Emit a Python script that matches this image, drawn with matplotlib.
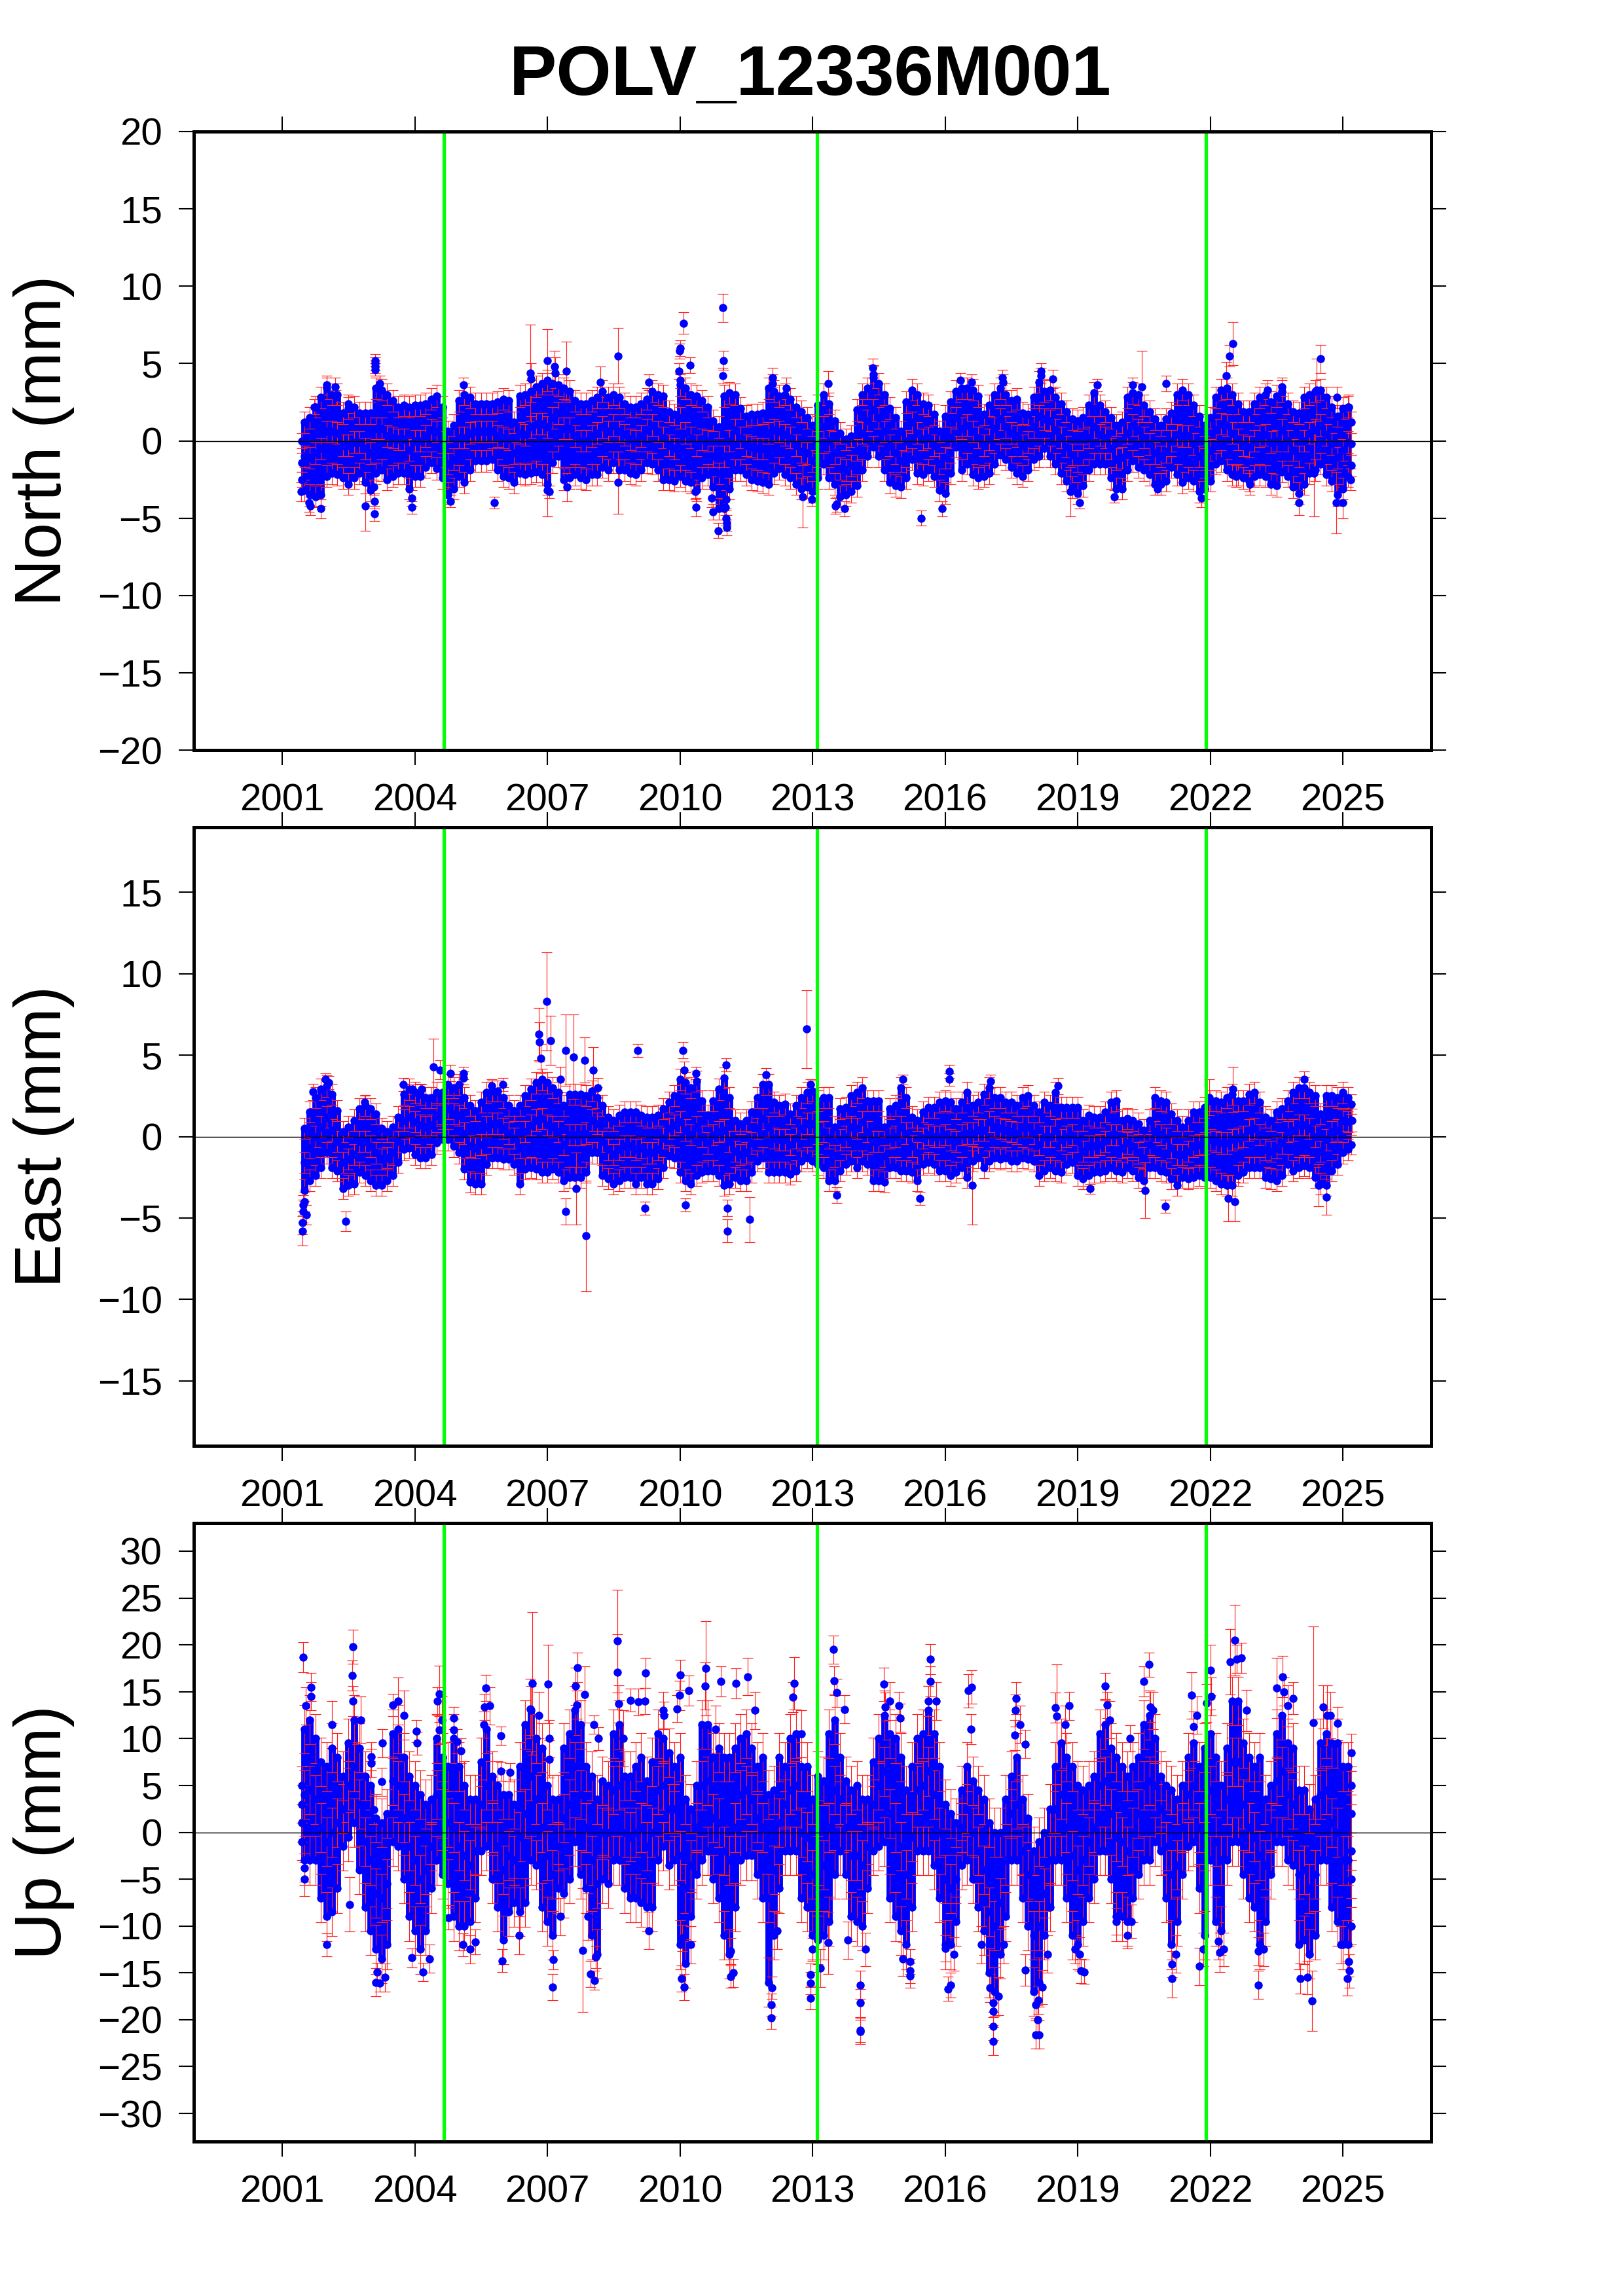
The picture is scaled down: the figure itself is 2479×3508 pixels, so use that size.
import numpy as np
import matplotlib
matplotlib.use('Agg')
import matplotlib.pyplot as plt

plt.rcParams['font.family'] = ['Liberation Sans', 'DejaVu Sans']

station = 'POLV_12336M001'
year_ticks = [2001, 2004, 2007, 2010, 2013, 2016, 2019, 2022, 2025]
breaks = [2004.66, 2013.10, 2021.91]

# one epoch every eighth of a year, each with the top, middle and bottom of the cloud
epochs = [2001.5, 2001.625, 2001.75, 2001.875,
    2002.0, 2002.125, 2002.25, 2002.375, 2002.5, 2002.625, 2002.75, 2002.875,
    2003.0, 2003.125, 2003.25, 2003.375, 2003.5, 2003.625, 2003.75, 2003.875,
    2004.0, 2004.125, 2004.25, 2004.375, 2004.5, 2004.625, 2004.75, 2004.875,
    2005.0, 2005.125, 2005.25, 2005.375, 2005.5, 2005.625, 2005.75, 2005.875,
    2006.0, 2006.125, 2006.25, 2006.375, 2006.5, 2006.625, 2006.75, 2006.875,
    2007.0, 2007.125, 2007.25, 2007.375, 2007.5, 2007.625, 2007.75, 2007.875,
    2008.0, 2008.125, 2008.25, 2008.375, 2008.5, 2008.625, 2008.75, 2008.875,
    2009.0, 2009.125, 2009.25, 2009.375, 2009.5, 2009.625, 2009.75, 2009.875,
    2010.0, 2010.125, 2010.25, 2010.375, 2010.5, 2010.625, 2010.75, 2010.875,
    2011.0, 2011.125, 2011.25, 2011.375, 2011.5, 2011.625, 2011.75, 2011.875,
    2012.0, 2012.125, 2012.25, 2012.375, 2012.5, 2012.625, 2012.75, 2012.875,
    2013.0, 2013.125, 2013.25, 2013.375, 2013.5, 2013.625, 2013.75, 2013.875,
    2014.0, 2014.125, 2014.25, 2014.375, 2014.5, 2014.625, 2014.75, 2014.875,
    2015.0, 2015.125, 2015.25, 2015.375, 2015.5, 2015.625, 2015.75, 2015.875,
    2016.0, 2016.125, 2016.25, 2016.375, 2016.5, 2016.625, 2016.75, 2016.875,
    2017.0, 2017.125, 2017.25, 2017.375, 2017.5, 2017.625, 2017.75, 2017.875,
    2018.0, 2018.125, 2018.25, 2018.375, 2018.5, 2018.625, 2018.75, 2018.875,
    2019.0, 2019.125, 2019.25, 2019.375, 2019.5, 2019.625, 2019.75, 2019.875,
    2020.0, 2020.125, 2020.25, 2020.375, 2020.5, 2020.625, 2020.75, 2020.875,
    2021.0, 2021.125, 2021.25, 2021.375, 2021.5, 2021.625, 2021.75, 2021.875,
    2022.0, 2022.125, 2022.25, 2022.375, 2022.5, 2022.625, 2022.75, 2022.875,
    2023.0, 2023.125, 2023.25, 2023.375, 2023.5, 2023.625, 2023.75, 2023.875,
    2024.0, 2024.125, 2024.25, 2024.375, 2024.5, 2024.625, 2024.75, 2024.875,
    2025.0, 2025.125]

north_hi = [1.2, 1.5, 2.2, 2.8,
    3.4, 3.0, 3.0, 1.8, 2.1, 2.2, 1.8, 1.8,
    1.8, 3.4, 3.3, 3.0, 2.6, 2.2, 2.3, 2.2,
    2.3, 2.3, 2.4, 2.7, 2.9, 2.2, 0.6, 1.0,
    2.6, 3.0, 2.8, 2.4, 2.4, 2.4, 2.4, 2.5,
    2.7, 2.6, 1.2, 2.9, 3.0, 3.2, 3.5, 3.7,
    3.9, 3.7, 3.6, 3.4, 3.2, 2.6, 2.4, 2.4,
    2.6, 2.8, 3.2, 2.8, 3.0, 2.8, 2.4, 2.2,
    2.2, 2.4, 2.7, 3.2, 3.0, 2.9, 1.9, 1.7,
    3.6, 3.4, 3.0, 2.9, 2.6, 2.2, 1.3, 0.9,
    2.9, 3.1, 3.0, 2.1, 1.6, 1.7, 1.7, 1.8,
    3.4, 3.2, 2.9, 3.0, 2.7, 2.2, 1.9, 1.5,
    1.0, 2.3, 3.0, 2.4, 1.3, 0.5, 0.1, 0.3,
    2.0, 3.0, 3.4, 4.1, 3.7, 3.0, 2.1, 1.5,
    0.6, 2.5, 3.3, 3.0, 2.4, 2.3, 1.7, 0.6,
    1.6, 2.5, 3.2, 3.4, 3.4, 3.3, 2.9, 1.7,
    2.3, 3.0, 3.4, 3.0, 2.6, 2.7, 1.8, 1.7,
    2.8, 3.8, 3.2, 3.3, 2.8, 2.4, 1.9, 1.4,
    1.3, 1.5, 2.3, 3.1, 2.3, 1.9, 1.5, 1.0,
    1.2, 2.8, 3.1, 3.0, 2.3, 1.9, 1.4, 1.0,
    1.4, 1.8, 3.0, 3.3, 3.0, 2.3, 1.6, 1.0,
    1.5, 2.8, 3.3, 3.4, 3.0, 2.4, 1.9, 1.9,
    2.4, 2.8, 3.0, 2.5, 2.9, 3.2, 2.4, 1.9,
    1.8, 2.8, 3.0, 3.2, 3.3, 2.8, 2.2, 1.6,
    2.1, 2.2]
north_mid = [-1.0, -1.1, -0.8, -0.5,
    0.6, 0.6, 0.5, -0.3, -0.3, -0.1, -0.1, -0.5,
    -0.8, 0.8, 0.8, 0.3, 0.2, 0.1, 0.1, -0.6,
    0.0, 0.0, 0.3, 0.7, 0.6, -0.1, -1.5, -1.2,
    0.2, 0.2, 0.5, 0.6, 0.6, 0.6, 0.6, 0.3,
    0.2, 0.1, -0.8, 0.5, 0.4, 0.9, 1.1, 1.1,
    0.9, 1.5, 1.8, 0.8, 0.8, 0.3, 0.0, 0.0,
    0.3, 0.5, 0.9, 0.6, 1.0, 0.6, 0.4, 0.1,
    0.0, 0.3, 0.7, 1.0, 0.6, 0.2, -0.3, -0.5,
    1.5, 0.5, 0.2, -0.3, 0.1, 0.0, -1.0, -2.1,
    -1.0, 0.0, 0.7, 0.2, -0.3, -0.4, -0.5, -0.5,
    0.5, 0.7, 0.6, 0.4, 0.2, -0.3, -0.7, -0.8,
    -1.3, -0.1, 0.9, 0.0, -0.8, -1.8, -1.9, -1.6,
    -0.6, 0.5, 1.3, 2.0, 1.5, 0.6, -0.3, -0.8,
    -1.3, 0.0, 1.2, 0.5, 0.1, 0.2, -0.3, -1.5,
    -1.1, 0.2, 1.5, 0.8, 1.0, 0.6, 0.2, -0.3,
    0.1, 0.8, 1.4, 0.9, 0.5, 0.3, -0.3, -0.1,
    0.9, 1.6, 1.4, 1.3, 0.7, 0.2, -0.4, -0.9,
    -1.3, -0.9, 0.2, 0.9, 0.4, 0.2, -0.5, -1.2,
    -1.1, 0.5, 1.0, 0.7, 0.2, -0.2, -0.8, -1.0,
    -0.7, 0.0, 0.4, 0.3, 0.3, -0.2, -1.0, -1.2,
    -0.6, 0.7, 1.1, 1.0, 0.5, 0.1, -0.3, -0.4,
    0.0, 0.3, 0.4, -0.1, 0.0, 0.7, 0.0, -0.6,
    -1.0, 0.0, 0.5, 0.7, 1.0, 0.4, -0.2, -1.1,
    -0.6, -0.1]
north_lo = [-3.2, -3.5, -3.6, -3.5,
    -2.3, -2.1, -2.2, -2.4, -2.8, -2.4, -2.1, -2.7,
    -3.2, -2.1, -1.9, -2.5, -2.3, -2.1, -2.1, -3.1,
    -2.3, -2.3, -1.7, -1.4, -1.8, -2.4, -3.4, -3.1,
    -2.3, -2.7, -1.9, -1.3, -1.3, -1.3, -1.2, -1.9,
    -2.3, -2.4, -2.7, -2.1, -2.2, -2.1, -2.0, -2.2,
    -2.8, -1.4, -1.0, -2.5, -2.4, -2.2, -2.4, -2.5,
    -2.2, -2.2, -1.7, -1.9, -1.4, -1.9, -1.9, -2.1,
    -2.2, -1.9, -1.4, -1.5, -1.9, -2.5, -2.5, -2.6,
    -2.3, -2.6, -2.7, -3.2, -2.4, -2.2, -3.0, -4.4,
    -4.4, -3.1, -1.9, -1.9, -2.2, -2.5, -2.6, -2.7,
    -2.8, -2.1, -1.8, -2.2, -2.4, -2.8, -3.1, -3.0,
    -3.3, -2.4, -1.5, -2.4, -2.8, -3.6, -3.5, -3.3,
    -2.9, -1.9, -1.0, -0.4, -1.0, -1.9, -2.7, -2.9,
    -3.0, -2.4, -1.2, -2.1, -2.2, -1.9, -2.3, -3.2,
    -3.4, -2.1, -0.4, -1.9, -1.5, -2.2, -2.4, -2.3,
    -2.1, -1.5, -0.9, -1.2, -1.7, -2.1, -2.3, -1.9,
    -1.2, -1.0, -0.5, -1.0, -1.5, -2.1, -2.6, -3.0,
    -3.4, -2.9, -1.9, -1.5, -1.5, -1.5, -2.4, -3.1,
    -3.1, -1.9, -1.3, -1.7, -1.9, -2.2, -2.8, -2.8,
    -2.6, -1.7, -2.2, -2.7, -2.4, -2.6, -3.3, -3.1,
    -2.6, -1.5, -1.3, -1.9, -2.2, -2.2, -2.4, -2.6,
    -2.3, -2.2, -2.3, -2.8, -2.9, -2.0, -2.3, -3.0,
    -3.4, -2.8, -2.1, -1.9, -1.5, -2.2, -2.6, -3.5,
    -3.1, -2.3]

east_hi = [0.5, 1.5, 2.4, 2.9,
    3.1, 2.6, 1.6, 0.3, 0.6, 1.0, 1.7, 1.9,
    1.7, 1.4, 0.5, 0.3, 0.6, 1.2, 2.6, 2.9,
    2.7, 2.6, 2.4, 2.4, 2.7, 2.7, 3.2, 3.0,
    3.2, 2.4, 1.9, 1.6, 2.1, 2.7, 2.8, 2.8,
    2.4, 1.9, 1.6, 1.9, 2.5, 2.9, 3.3, 3.5,
    3.3, 3.0, 2.7, 1.9, 2.6, 2.6, 2.6, 2.5,
    2.8, 2.4, 1.9, 1.2, 1.0, 1.3, 1.5, 1.5,
    1.5, 1.3, 1.2, 1.2, 1.3, 1.7, 2.1, 2.5,
    3.5, 3.3, 3.0, 3.4, 2.2, 1.3, 2.2, 2.9,
    3.6, 2.4, 1.0, 0.8, 1.0, 1.5, 2.4, 3.2,
    3.2, 2.1, 1.9, 2.0, 1.4, 1.9, 2.4, 2.7,
    2.8, 2.2, 2.4, 2.4, 0.6, 1.7, 1.8, 2.5,
    2.7, 3.0, 2.2, 2.2, 2.2, 0.6, 1.7, 1.9,
    3.0, 2.4, 1.2, 1.0, 1.5, 1.8, 1.8, 2.1,
    2.2, 2.1, 1.7, 2.1, 2.7, 1.9, 2.1, 2.6,
    3.0, 2.4, 2.4, 2.1, 2.1, 1.9, 2.4, 2.5,
    1.9, 1.5, 2.1, 1.9, 2.7, 1.8, 1.8, 1.8,
    1.8, 1.0, 1.3, 1.2, 1.2, 1.5, 2.1, 2.2,
    1.0, 1.1, 1.0, 0.8, 0.4, 1.0, 2.4, 2.2,
    2.1, 1.4, 1.0, 0.6, 1.0, 1.5, 1.5, 1.8,
    2.2, 2.2, 2.1, 2.4, 2.6, 2.2, 2.2, 2.6,
    2.7, 2.1, 1.2, 1.0, 1.5, 1.7, 2.2, 2.7,
    3.0, 3.0, 2.7, 2.5, 1.4, 2.5, 2.5, 2.4,
    2.7, 2.4]
east_mid = [-1.6, -0.7, 0.0, 0.6,
    1.2, 0.4, -0.3, -1.6, -1.4, -1.1, -0.3, -0.3,
    -0.6, -1.0, -1.4, -1.3, -1.0, -0.3, 1.0, 1.2,
    0.9, 0.7, 0.6, 0.7, 1.3, 1.4, 1.7, 1.4,
    1.3, 0.2, -0.6, -0.7, -0.5, 0.6, 0.8, 0.8,
    0.5, 0.2, -0.1, -0.7, 0.3, 0.7, 1.0, 1.1,
    0.7, 0.6, 0.3, -0.5, 0.1, 0.1, 0.1, 0.2,
    1.0, 0.8, -0.3, -0.8, -1.1, -0.8, -0.6, -0.6,
    -0.8, -0.7, -1.0, -1.0, -0.8, -0.1, 0.5, 0.7,
    0.9, 0.4, 0.1, 0.6, 0.0, -0.4, 0.1, 0.3,
    0.4, -0.3, -0.9, -1.1, -1.0, -0.4, 0.5, 1.1,
    0.6, -0.1, -0.2, -0.2, -0.5, -0.1, 0.5, 0.8,
    0.8, 0.2, 0.3, -0.1, -1.2, -0.2, 0.0, 0.6,
    0.5, 0.9, 0.3, -0.3, -0.3, -1.2, -0.1, 0.0,
    0.6, 0.2, -0.6, -1.0, -0.1, 0.1, 0.0, 0.0,
    0.1, -0.2, -0.3, 0.1, 0.2, 0.2, 0.4, 0.4,
    0.9, 0.6, 0.5, 0.4, 0.3, 0.2, 0.6, 0.6,
    0.2, -0.5, 0.0, 0.0, 0.4, -0.2, 0.0, 0.1,
    -0.3, -0.9, -0.6, -0.6, -0.5, -0.3, 0.1, 0.1,
    -0.7, -0.4, -0.6, -1.0, -1.3, -0.5, 0.3, 0.1,
    -0.1, -0.7, -1.1, -1.1, -0.9, -0.6, -0.5, -0.4,
    -0.2, -0.3, -0.4, -0.4, -0.2, -0.1, 0.0, 0.4,
    0.5, 0.1, -0.8, -0.9, -0.7, -0.4, 0.3, 0.4,
    0.7, 0.7, 0.5, 0.0, -0.9, -0.2, 0.3, 0.4,
    1.0, 0.9]
east_lo = [-3.3, -2.7, -2.4, -1.9,
    -1.0, -1.9, -2.1, -3.2, -3.0, -2.9, -2.2, -2.4,
    -2.7, -3.0, -3.0, -2.7, -2.4, -1.6, -0.8, -0.7,
    -1.1, -1.3, -1.3, -1.1, -0.4, -0.2, -0.2, -0.6,
    -1.0, -2.0, -2.8, -2.9, -2.9, -1.7, -1.3, -1.3,
    -1.4, -1.4, -1.7, -2.9, -2.0, -1.9, -2.0, -2.2,
    -2.2, -2.0, -2.2, -2.7, -2.5, -2.5, -2.5, -2.2,
    -1.0, -1.0, -2.4, -2.6, -2.9, -2.7, -2.5, -2.5,
    -2.9, -2.5, -2.9, -2.9, -2.6, -1.9, -1.2, -1.3,
    -2.2, -2.7, -2.9, -2.4, -2.2, -2.1, -2.1, -2.4,
    -3.0, -2.9, -2.5, -2.7, -2.7, -2.2, -1.5, -1.3,
    -2.2, -2.2, -2.2, -2.2, -2.3, -2.1, -1.5, -1.3,
    -1.5, -1.7, -1.9, -2.7, -2.7, -2.1, -1.7, -1.5,
    -1.9, -1.5, -1.7, -2.7, -2.7, -2.8, -1.9, -1.9,
    -2.1, -2.1, -2.2, -2.7, -1.7, -1.6, -1.7, -2.1,
    -2.1, -2.4, -2.2, -1.9, -2.5, -1.5, -1.3, -1.9,
    -1.5, -1.3, -1.4, -1.3, -1.5, -1.5, -1.3, -1.4,
    -1.5, -2.4, -2.1, -1.9, -2.1, -2.2, -1.7, -1.6,
    -2.4, -2.6, -2.4, -2.2, -2.2, -2.1, -1.9, -2.1,
    -2.2, -1.9, -2.1, -2.5, -2.7, -1.9, -1.9, -2.1,
    -2.2, -2.6, -3.0, -2.5, -2.6, -2.5, -2.4, -2.5,
    -2.5, -2.7, -2.9, -3.0, -3.0, -2.4, -2.2, -1.9,
    -1.9, -1.9, -2.5, -2.6, -2.7, -2.4, -1.7, -2.1,
    -1.9, -1.8, -1.9, -2.5, -2.9, -3.0, -2.1, -1.7,
    -1.0, -0.8]

up_hi = [11, 12, 10, 7.5,
    7, 9, 8, 6, 9.5, 12, 9, 6,
    5, 1.5, 1, 2, 10.5, 11, 8, 6,
    5, 4, 3, 3.5, 10, 8, 7, 10,
    7, 5, 3.5, 3.5, 7.5, 11, 6, 5,
    4, 4, 3, 7, 11.5, 13, 10, 9,
    5, 3.5, 3.5, 9, 10.5, 13, 11.5, 7,
    6, 3.5, 5.5, 5, 10.5, 11.5, 6, 6,
    7, 8, 5.5, 7.5, 10.5, 10, 8.5, 7,
    8, 3.5, 2.5, 5, 11.5, 11.5, 8, 9,
    8, 8, 9, 10, 10.5, 9, 7, 8,
    4, 4.5, 8, 7, 10, 10.5, 7, 7,
    3.5, 6, 5.5, 10.5, 12, 8, 5.5, 4.5,
    5, 3.5, 3.5, 7.5, 10, 12.5, 10.5, 10,
    8, 4.5, 7, 10, 10.5, 13, 10.5, 7,
    3, 2, 1, 4.5, 7, 5.5, 4.5, 3.5,
    1, 0, 0, 3.5, 6, 8, 3.5, 1.5,
    -2, -1, 0, 2.5, 7, 9.5, 8, 7,
    5, 4.5, 5, 6, 10.5, 11.5, 9, 8,
    7, 6, 7, 8, 11.5, 12.5, 10, 6,
    5, 4.5, 3.5, 5, 8, 9.5, 7, 9,
    10.5, 8, 5, 9, 14, 14, 9.5, 8,
    7, 8, 3.5, 5, 10.5, 12.5, 9.5, 9,
    4.5, 4.5, 2.5, 3.5, 9.5, 10.5, 9.5, 9.5,
    7, 7]
up_mid = [4, 4.5, 3.5, 0.5,
    -1, 0, 1, 2.5, 5, 7, 3, -1,
    -3, -6.5, -7, -5.5, 5.5, 5, 1.5, -1.5,
    -3, -5, -4, -1.5, 4, 2, 1, 0.5,
    -1.5, -2.5, -3.5, -2, 3, 5, 0.5, -1.5,
    -4, -2.5, -3, -0.5, 2, 6, 3.5, 0.5,
    -2.5, -4.5, -1.5, 1.5, 3, 7, 4, 0.5,
    -3, -5.5, 0, 0, 4.5, 5, 0, -0.5,
    0, 0.5, -1.5, 0, 4.5, 5, 2.5, 2.5,
    -2.5, -6, -3.5, 0.5, 5, 5.5, 1.5, 1,
    -2, -3, 0.5, 4, 4.5, 3.5, 1.5, 0.5,
    -7, -4, 1, 3, 4.5, 5, 0, -0.5,
    -4.5, -3, -3.5, 0.5, 4.5, 3.5, 0.5, -2.5,
    -2.5, -3.5, -1.5, 3, 5, 6.5, 2, 0.5,
    -1.5, -4.5, -0.5, 4.5, 5, 6.5, 4, 0,
    -5, -6, -5, 0.5, 2.5, 0, -2, -4,
    -8.5, -10, -7.5, -3, 2, 3, -2, -4.5,
    -11, -10, -6.5, -3, 2.5, 4, 0.5, -2.5,
    -4, -3, -1, 0.5, 5, 5.5, 2, -0.5,
    -1, -2, 0, 2, 5, 5.5, 5, 2.5,
    -1.5, -4.5, -3.5, 0.5, 4, 5, 0.5, -1.5,
    4.5, -1, -3, 3.5, 7.5, 7.5, 3, 0.5,
    -0.5, -2.5, -3.5, 0.5, 5.5, 6.5, 4, 3,
    -4.5, -4, -6, -4.5, 4, 4.5, 1, 0,
    -3, -3]
up_lo = [-3, -3, -3, -7,
    -9, -8.5, -6, -1.5, -0.5, 1, -4, -8,
    -10.5, -12.5, -13.5, -12, -1, -1.5, -5, -9,
    -10.5, -12.5, -10.5, -6, -3, -4.5, -5.5, -9,
    -10, -10, -9.5, -7, -2, -1.5, -5, -8,
    -11.5, -8.5, -7.5, -8.5, -7.5, -3, -3.5, -8,
    -9.5, -11, -6, -6.5, -5, -1, -4.5, -6,
    -11, -13, -5, -5.5, -3, -3, -6, -7,
    -7, -7.5, -8, -8, -3, -1.5, -3.5, -3,
    -12, -14, -9, -4.5, -3, -2, -5, -7,
    -11, -13, -8, -3, -2.5, -2.5, -4.5, -7,
    -16, -11, -6, -2, -2, -2, -7, -8,
    -11, -11.5, -11, -9.5, -4.5, -2, -4.5, -9,
    -9.5, -10, -6, -2, -1.5, -1, -7, -9,
    -10.5, -12, -8, -2, -2, -2, -3.5, -7,
    -12, -12, -9.5, -3.5, -3, -5, -8, -10.5,
    -15, -17, -13, -9, -3, -3, -7, -10,
    -17, -16, -11, -8, -3, -3, -7, -11,
    -12, -9.5, -7, -5, -2, -2, -5, -9,
    -9, -9.5, -7, -4.5, -3, -3, -1, -2,
    -7, -12, -9.5, -4.5, -1.5, -1, -6, -11,
    -3, -9.5, -10.5, -3, -1, -1, -4.5, -7,
    -8, -12, -9.5, -4.5, -1, -1, -3, -3.5,
    -12, -11.5, -13, -11, -3, -3, -8, -9.5,
    -12, -12]

# single points outside the cloud: epoch, value, error
north_spots = np.array([
    [2001.43, -3.3, 0.6], [2001.45, -2.5, 0.5], [2001.44, 0.0, 0.5], [2001.44, -1.4, 0.6], [2001.63, -4.2, 0.6],
    [2001.6, -4.0, 0.6], [2001.88, -4.4, 0.6], [2002.0, 3.6, 0.6], [2002.2, 3.5, 0.6], [2002.22, 2.8, 0.5],
    [2001.73, 2.2, 0.5], [2002.5, 2.4, 0.6], [2002.88, -4.2, 1.6], [2003.09, -4.7, 0.5], [2003.09, -3.9, 0.5],
    [2003.08, -3.0, 0.5], [2003.1, 5.2, 0.4], [2003.1, 5.0, 0.4], [2003.1, 4.8, 0.4], [2003.1, 4.6, 0.4],
    [2003.2, 3.7, 0.5], [2003.94, -3.7, 0.5], [2003.94, -4.3, 0.4], [2005.8, -4.0, 0.4], [2004.8, -3.9, 0.4],
    [2004.75, -3.5, 0.5], [2005.1, 3.6, 0.5], [2006.62, 4.4, 3.1], [2006.63, 4.0, 1.0], [2007.0, 5.2, 2.0],
    [2007.17, 4.8, 1.0], [2007.18, 4.4, 1.0], [2007.43, 4.5, 1.9], [2007.04, -3.3, 0.4], [2007.0, -3.2, 1.7],
    [2007.45, -3.0, 0.9], [2008.6, 5.5, 1.8], [2008.6, -2.7, 2.0], [2008.2, 3.8, 1.0], [2009.3, 3.8, 0.5],
    [2010.0, 6.0, 0.5], [2009.99, 5.8, 0.5], [2010.08, 7.6, 0.7], [2009.98, 4.5, 0.5], [2010.0, 3.9, 0.5],
    [2010.23, 4.9, 0.5], [2010.37, -4.3, 0.6], [2010.35, -3.3, 0.5], [2010.72, -3.7, 0.6], [2010.75, -4.6, 0.5],
    [2010.87, -5.8, 0.5], [2010.97, 8.6, 0.9], [2010.98, 5.2, 0.6], [2010.97, 4.2, 0.5], [2011.06, -5.6, 0.5],
    [2011.06, -5.3, 0.5], [2011.05, -5.0, 0.5], [2011.03, -4.3, 0.5], [2011.05, -3.8, 0.6], [2012.09, 4.1, 0.6],
    [2012.09, 3.7, 0.6], [2012.4, 3.4, 0.7], [2012.78, -3.6, 2.0], [2012.99, -3.8, 0.4], [2013.36, 3.7, 0.8],
    [2013.52, -4.2, 0.5], [2013.55, -4.1, 0.5], [2013.73, -4.4, 0.5], [2014.37, 4.7, 0.6], [2014.38, 4.3, 0.6],
    [2015.46, -5.0, 0.5], [2015.93, -4.4, 0.5], [2016.35, 3.9, 0.5], [2016.6, 3.8, 0.5], [2017.3, 4.1, 0.5],
    [2017.31, 3.8, 0.5], [2018.17, 4.5, 0.5], [2018.17, 4.2, 0.5], [2018.43, 4.0, 0.6], [2018.84, -3.3, 1.6],
    [2019.05, -4.0, 0.4], [2019.44, 3.6, 0.4], [2019.83, -3.6, 0.4], [2020.25, 3.6, 0.5], [2020.45, 3.5, 2.3],
    [2021.0, 3.7, 0.5], [2020.8, -3.1, 0.4], [2021.8, -3.7, 0.6], [2022.37, 4.2, 0.9], [2022.44, 5.5, 0.7],
    [2022.51, 6.3, 1.4], [2022.58, -2.3, 0.7], [2022.9, -2.8, 0.7], [2023.3, 3.3, 0.6], [2023.62, 3.5, 0.6],
    [2024.0, -4.0, 0.8], [2024.5, 5.3, 0.9], [2024.4, 3.3, 2.0], [2024.35, -2.1, 2.8], [2024.85, -4.0, 2.0],
    [2025.0, -4.0, 1.0], [2024.87, 2.8, 0.7], [2025.13, 2.2, 0.8], [2025.19, 1.2, 0.7], [2025.19, -0.2, 0.7],
    [2025.19, -1.6, 0.7], [2025.18, -2.5, 0.7]])

east_spots = np.array([
    [2001.46, -5.8, 0.9], [2001.46, -5.3, 0.7], [2001.47, -4.6, 0.7], [2001.47, -4.2, 0.6], [2001.5, -4.0, 0.6],
    [2001.55, -4.8, 0.6], [2002.44, -5.2, 0.6], [2001.7, 2.75, 0.5], [2001.98, 3.5, 0.4], [2002.05, 3.3, 0.4],
    [2002.86, 2.1, 0.4], [2003.74, 3.2, 0.4], [2003.95, 2.9, 0.3], [2004.16, 2.9, 0.3], [2004.42, 4.3, 1.7],
    [2004.57, 4.1, 0.6], [2004.8, 3.9, 0.5], [2005.1, 3.9, 0.4], [2005.11, 3.6, 0.4], [2005.74, 3.1, 0.4],
    [2005.99, 3.2, 0.4], [2006.8, 6.3, 1.6], [2006.82, 5.8, 1.2], [2006.99, 8.3, 3.0], [2007.07, 5.9, 1.5],
    [2006.85, 4.8, 0.9], [2007.42, 5.3, 2.2], [2007.3, 3.5, 0.8], [2007.59, 4.9, 2.6], [2007.85, 4.7, 1.4],
    [2008.03, 4.1, 1.4], [2008.14, 3.0, 0.6], [2007.42, -4.6, 0.8], [2007.87, -6.1, 3.4], [2007.65, -3.2, 2.2],
    [2009.05, 5.3, 0.4], [2009.2, -4.4, 0.4], [2010.07, 5.3, 0.5], [2010.12, -4.2, 0.4], [2011.07, -5.8, 0.7],
    [2011.07, -4.4, 0.5], [2011.58, -5.1, 1.4], [2012.86, 6.6, 2.4], [2011.05, 4.4, 0.4], [2010.1, 4.1, 0.5],
    [2010.37, 3.9, 0.4], [2011.95, 3.8, 0.4], [2012.96, 3.2, 0.3], [2013.55, -3.6, 0.5], [2016.1, 4.0, 0.4],
    [2016.1, 3.5, 0.4], [2015.43, -3.8, 0.4], [2016.62, -3.0, 2.4], [2020.98, -4.3, 0.4], [2020.52, -3.3, 1.7],
    [2022.4, -3.8, 1.4], [2022.55, -4.0, 1.2], [2024.63, -3.7, 1.1], [2024.45, -3.0, 1.3], [2019.28, -3.2, 0.3],
    [2018.55, 3.1, 0.5], [2017.03, 3.4, 0.4], [2015.05, 3.5, 0.3], [2024.13, 3.5, 0.5], [2022.51, 2.9, 1.4],
    [2021.98, 2.4, 1.1], [2025.19, 2.0, 0.6], [2025.19, -0.5, 0.6], [2025.2, 1.0, 0.7]])

up_spots = np.array([
    [2001.48, 18.7, 1.6], [2001.65, 15.5, 1.5], [2001.65, 14.5, 1.5], [2001.53, 13.5, 2.0], [2001.5, -5.0, 1.8],
    [2001.5, -3.8, 1.5], [2001.45, 5.0, 2.0], [2001.45, 3.0, 2.0], [2001.45, 1.0, 2.0], [2001.45, -1.0, 2.0],
    [2002.01, -12.0, 1.2], [2002.52, -7.7, 2.9], [2002.58, 16.7, 1.6], [2002.6, 19.8, 1.8], [2002.6, 14.0, 1.6],
    [2003.01, 8.1, 1.5], [2003.01, 7.4, 1.5], [2003.26, 9.5, 1.5], [2003.25, 5.4, 1.5], [2003.08, 2.4, 1.5],
    [2003.21, -16.1, 0.9], [2003.15, -14.9, 1.0], [2003.5, 13.6, 1.2], [2003.76, 12.5, 2.6], [2004.04, 10.8, 1.2],
    [2004.05, 9.5, 1.2], [2003.94, -13.4, 1.0], [2004.18, -14.9, 1.0], [2004.56, 14.8, 3.0], [2004.51, 14.0, 1.5],
    [2004.55, 10.9, 1.5], [2004.88, 12.2, 1.2], [2004.88, 10.9, 1.2], [2004.96, 9.7, 1.3], [2005.05, 8.7, 1.3],
    [2004.77, -9.1, 1.3], [2005.09, -12.0, 1.2], [2005.37, -11.7, 1.3], [2005.6, 15.4, 1.4], [2005.58, 13.4, 1.4],
    [2005.56, 11.5, 1.4], [2005.95, 10.3, 1.0], [2005.95, 6.5, 1.0], [2006.15, 6.4, 1.0], [2005.98, -13.7, 1.2],
    [2006.66, 15.9, 7.6], [2006.62, 13.2, 3.2], [2007.02, 15.8, 4.2], [2007.05, 10.0, 2.0], [2007.05, 7.8, 2.0],
    [2007.12, -16.5, 1.4], [2007.13, -13.6, 1.0], [2007.68, 17.6, 1.6], [2007.64, 15.6, 2.0], [2007.85, 14.7, 3.0],
    [2007.67, 13.6, 1.5], [2008.05, 11.5, 1.0], [2008.15, 10.0, 1.2], [2007.8, -12.6, 6.6], [2008.07, -15.8, 1.0],
    [2007.98, -15.1, 1.4], [2008.09, -13.3, 1.2], [2008.59, 20.4, 5.5], [2008.59, 17.1, 4.0], [2008.62, 13.7, 2.0],
    [2008.88, 14.1, 1.2], [2009.06, 13.9, 1.4], [2009.22, 17.0, 1.6], [2009.2, 14.0, 1.4], [2010.0, 16.8, 1.6],
    [2009.99, 14.6, 1.6], [2010.2, 15.1, 1.6], [2009.94, 13.2, 1.4], [2009.64, 12.5, 1.4], [2010.09, -16.5, 1.4],
    [2010.04, -15.6, 1.4], [2010.05, -11.3, 1.4], [2010.59, 17.5, 5.0], [2010.57, 15.6, 2.5], [2010.93, 16.1, 1.6],
    [2011.26, 15.9, 1.6], [2011.54, 16.6, 2.0], [2011.15, -15.4, 1.2], [2011.15, -12.7, 1.4], [2012.59, 15.9, 2.8],
    [2012.56, 14.4, 1.6], [2012.06, -19.8, 1.2], [2012.06, -18.4, 1.2], [2012.08, -16.6, 1.2], [2012.96, -17.7, 1.2],
    [2012.96, -16.1, 1.2], [2012.96, -15.2, 1.2], [2013.0, -12.5, 1.2], [2013.36, -11.8, 3.3], [2013.48, 19.5, 1.5],
    [2013.49, 16.2, 1.5], [2013.55, 14.9, 1.5], [2013.72, 13.1, 1.5], [2014.08, -16.3, 1.5], [2014.08, -18.2, 1.5],
    [2014.08, -21.1, 1.3], [2014.08, -21.3, 1.3], [2014.62, 15.8, 1.8], [2014.65, 13.4, 1.5], [2014.96, 13.5, 1.5],
    [2014.99, 12.2, 1.5], [2015.2, -13.8, 1.3], [2015.2, -14.8, 1.3], [2015.2, -15.3, 1.3], [2015.67, 18.5, 1.6],
    [2015.66, 16.1, 1.6], [2015.62, 14.0, 1.6], [2016.07, -16.7, 1.3], [2016.12, -16.3, 1.3], [2016.0, -12.4, 1.4],
    [2016.53, 15.1, 1.8], [2016.6, 15.5, 1.8], [2016.58, 11.0, 1.6], [2017.09, -22.3, 1.5], [2017.09, -20.7, 1.5],
    [2017.09, -19.1, 1.5], [2017.09, -18.2, 1.5], [2017.02, -16.6, 1.5], [2017.61, 14.3, 1.7], [2017.59, 13.0, 1.7],
    [2017.58, 10.4, 1.6], [2017.82, 9.4, 1.5], [2017.81, -14.7, 1.7], [2018.05, -21.6, 1.5], [2018.13, -21.6, 1.5],
    [2018.09, -20.0, 1.5], [2018.05, -18.4, 1.5], [2018.11, -17.9, 1.5], [2018.5, 13.3, 1.6], [2018.8, 13.5, 1.5],
    [2018.53, 12.4, 5.5], [2019.07, -14.8, 1.3], [2019.15, -14.9, 1.3], [2018.94, -12.5, 1.5], [2019.62, 15.6, 1.4],
    [2019.66, 13.6, 1.4], [2020.12, -11.0, 1.4], [2019.87, -9.5, 1.4], [2020.19, 10.0, 1.4], [2020.62, 17.9, 1.3],
    [2020.5, 16.1, 1.6], [2020.64, 13.4, 1.6], [2021.13, -15.6, 2.0], [2021.13, -14.1, 1.4], [2021.58, 14.6, 2.5],
    [2021.62, 11.3, 1.6], [2021.76, -14.3, 2.0], [2022.0, 17.3, 2.7], [2021.92, 13.8, 2.0], [2022.02, 14.5, 2.0],
    [2022.21, -12.8, 2.1], [2022.19, -11.6, 2.0], [2022.55, 20.5, 3.8], [2022.7, 18.6, 1.6], [2022.45, 18.2, 3.5],
    [2022.6, 18.5, 1.5], [2023.09, -16.3, 1.5], [2023.09, -12.7, 1.5], [2023.64, 16.6, 2.2], [2023.5, 15.4, 3.2],
    [2023.88, 14.3, 1.7], [2023.66, 15.0, 1.5], [2024.04, -15.6, 1.6], [2024.31, -18.0, 3.2], [2024.34, 11.7, 10.3],
    [2024.55, 13.4, 2.3], [2024.64, 12.5, 3.2], [2024.88, 11.6, 1.8], [2025.1, -15.6, 1.8], [2025.13, -13.8, 1.6],
    [2025.15, -14.8, 1.8], [2025.19, 8.5, 2.0], [2025.19, 5.0, 2.0], [2025.19, 2.0, 2.0], [2025.19, -2.0, 2.0],
    [2025.19, -5.0, 2.0], [2025.19, -10.0, 2.0],
    # fringe of the seasonal spikes
    [2002.12, 11.5, 2.5], [2002.78, 12.0, 2.5], [2003.12, -16.0, 1.5], [2003.33, -15.5, 1.5], [2003.62, 14.0, 2.5],
    [2004.33, -13.5, 1.5], [2004.62, 12.0, 2.5], [2005.25, -12.5, 1.5], [2005.7, 13.5, 2.0], [2006.37, -11.0, 2.0],
    [2006.8, 12.5, 2.5], [2007.3, -9.0, 2.0], [2007.92, -9.0, 2.5], [2008.72, 10.0, 3.0], [2009.3, -10.5, 2.0],
    [2009.62, 13.0, 2.0], [2010.25, -12.0, 2.0], [2010.8, 11.0, 2.5], [2011.2, -15.0, 1.5], [2011.7, 13.0, 2.0],
    [2012.2, -10.5, 2.0], [2012.75, 10.5, 2.5], [2013.18, -14.5, 2.0], [2013.8, -11.5, 2.0], [2014.2, -12.5, 1.8],
    [2014.75, 14.0, 2.0], [2015.05, -13.5, 1.8], [2015.8, 14.0, 2.0], [2016.2, -13.0, 1.8], [2016.82, -12.0, 2.0],
    [2017.2, -17.5, 2.0], [2017.33, -12.0, 2.0], [2017.7, 11.5, 2.0], [2018.2, -16.5, 1.8], [2018.32, -13.0, 2.0],
    [2018.72, 11.5, 2.0], [2019.05, -13.0, 1.8], [2019.72, 12.0, 2.0], [2020.22, -9.5, 1.8], [2020.7, 13.0, 2.0],
    [2021.22, -13.0, 2.0], [2021.7, 12.5, 2.0], [2021.85, -12.5, 1.8], [2022.3, -12.5, 1.8], [2022.82, 13.0, 2.2],
    [2023.2, -12.5, 1.8], [2023.75, 13.5, 2.2], [2024.2, -15.5, 1.8], [2024.72, 12.5, 2.5], [2024.95, -12.0, 2.0]])

labels = ['North (mm)', 'East (mm)', 'Up (mm)']
limits = [20, 19, 33]
y_ticks = [np.arange(-20, 21, 5), np.arange(-15, 16, 5), np.arange(-30, 31, 5)]
cloud_err = [0.7, 0.65, 2.6]
tops = [201, 1264, 2327]


def draw_bars(ax, t, y, err):
    ax.errorbar(t, y, yerr=err, fmt='none', ecolor='#ff2020', elinewidth=0.28,
                capsize=1.9, capthick=0.28, zorder=3)


def plot_panel(ax, hi, mid, lo, spots, lim, ticks, label, err):
    ''' one component: cloud of positions with their error bars '''
    t = np.array(epochs)
    ax.vlines(t, lo, hi, color='#0000ff', lw=2.6, zorder=2)
    for y in (hi, mid, lo):
        draw_bars(ax, t, y, err)
        ax.plot(t, y, 'o', color='#0000ff', ms=3.0, mew=0, zorder=4)
    draw_bars(ax, spots[:, 0], spots[:, 1], spots[:, 2])
    ax.plot(spots[:, 0], spots[:, 1], 'o', color='#0000ff', ms=3.0, mew=0, zorder=4)

    for b in breaks:
        ax.axvline(b, color='#00ff00', lw=1.25, zorder=5)
    ax.axhline(0, color='black', lw=0.35, zorder=6)

    ax.set_xlim(1999, 2027)
    ax.set_ylim(-lim, lim)
    ax.set_xticks(year_ticks)
    ax.set_yticks(ticks)
    ax.tick_params(axis='both', direction='out', length=5.5, width=0.5, labelsize=14,
                   top=True, right=True)
    ax.tick_params(axis='x', pad=6.6)
    ax.tick_params(axis='y', pad=6)
    ax.set_ylabel(label, fontsize=24, va='center')
    ax.yaxis.set_label_coords(-0.121, 0.5)
    for s in ax.spines.values():
        s.set_linewidth(1.2)
        s.set_zorder(7)


def main():
    w, h = 2479, 3508
    fig = plt.figure(figsize=(w / 300, h / 300), dpi=300)
    series = [(north_hi, north_mid, north_lo, north_spots),
              (east_hi, east_mid, east_lo, east_spots),
              (up_hi, up_mid, up_lo, up_spots)]
    for i in range(3):
        ax = fig.add_axes([296 / w, 1 - (tops[i] + 945) / h, 1890 / w, 945 / h])
        hi, mid, lo, spots = series[i]
        plot_panel(ax, hi, mid, lo, spots, limits[i], y_ticks[i], labels[i], cloud_err[i])

    fig.text(1238 / w, 1 - 145 / h, station, fontsize=26, fontweight='bold', ha='center', va='baseline')
    fig.savefig('out.png', dpi=300)


if __name__ == "__main__":
    main()
